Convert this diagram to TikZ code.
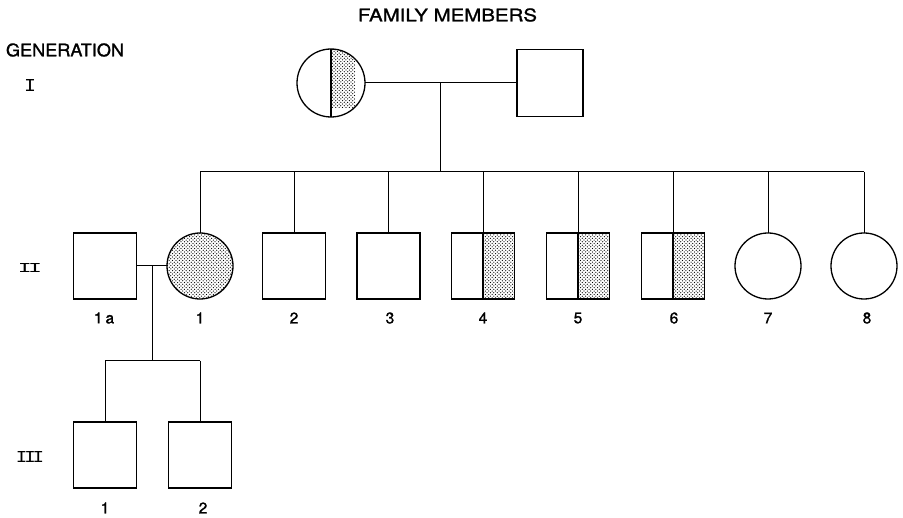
\documentclass[tikz,border=0pt]{standalone}
\usepackage{fontspec}
\usepackage{graphicx}
\usetikzlibrary{patterns}
\newfontfamily\lettering[FakeBold=1.2]{TeX Gyre Heros}
\newfontfamily\romfont{Liberation Mono}

% stipple used for the affected parts of the symbols
\pgfdeclarepatternformonly{stipple}{\pgfqpoint{-1pt}{-1pt}}{\pgfqpoint{4.5pt}{4.5pt}}{\pgfqpoint{3.4pt}{3.4pt}}{%
  \pgfpathcircle{\pgfqpoint{0.85pt}{0.85pt}}{0.62pt}%
  \pgfpathcircle{\pgfqpoint{2.55pt}{2.55pt}}{0.62pt}%
  \pgfusepath{fill}}

\begin{document}
\begin{tikzpicture}[x=1pt,y=-1pt,
  sym/.style={draw, line width=1.3pt, inner sep=0pt, outer sep=0pt},
  male/.style={sym, rectangle, minimum width=63pt, minimum height=66pt},
  female/.style={sym, circle, minimum size=66pt},
  tie/.style={line width=1pt},
  lbl/.style={font=\lettering\fontsize{15.5}{15.5}\selectfont, inner sep=0pt},
  plain/.style={inner sep=0pt, outer sep=0pt}]
\useasboundingbox (0,0) rectangle (903,518);

% headings
\node[plain] (title) at (447.5,15) {\lettering\resizebox{179pt}{13pt}{FAMILY MEMBERS}};
\node[plain] (gen) at (65,50) {\lettering\resizebox{118pt}{13pt}{GENERATION}};

% generation numerals
\node[plain] (r1) at (30,86) {\romfont\resizebox{12pt}{12pt}{I}};
\node[plain] (r2) at (30,268.5) {\romfont\resizebox{24pt}{9pt}{I\kern-0.17emI}};
\node[plain] (r3) at (30,457.5) {\romfont\resizebox{28pt}{11pt}{I\kern-0.17emI\kern-0.17emI}};

% generation I
\node[female, minimum size=68pt] (g1f) at (331,83) {};
\node[male, minimum width=66pt, minimum height=67pt] (g1m) at (550,83) {};
\begin{scope}
  \clip (g1f.north) rectangle (g1f.south east);
  \fill[pattern=stipple] (g1f.center) circle[radius=34pt];
\end{scope}
\draw[sym] (g1f.north) -- (g1f.south);

% generation II
\node[male] (a1) at (105,266) {};
\node[female, pattern=stipple] (b1) at (200,266) {};
\node[male] (b2) at (294,266) {};
\node[male] (b3) at (388.5,266) {};
\node[male] (b4) at (483,266) {};
\node[male] (b5) at (578,266) {};
\node[male] (b6) at (673,266) {};
\node[female] (b7) at (768,266) {};
\node[female] (b8) at (864,266) {};
\foreach \n in {b4,b5,b6}{
  \fill[pattern=stipple] (\n.north) rectangle (\n.south east);
  \draw[sym] (\n.south west) rectangle (\n.north east);
  \draw[sym] (\n.north) -- (\n.south);
}

% generation III
\node[male] (c1) at (105,455) {};
\node[male] (c2) at (200,455) {};

% mating and sibship lines
\coordinate (m1) at (440,83);
\coordinate (s1) at (440,172);
\draw[tie] (g1f.east) -- (g1m.west);
\draw[tie] (m1) -- (s1);
\draw[tie] (b1.north |- s1) -- (b8.north |- s1);
\foreach \n in {b1,b2,b3,b4,b5,b6,b7,b8}
  \draw[tie] (\n.north |- s1) -- (\n.north);

\coordinate (m2) at (152,266);
\coordinate (s2) at (152,361);
\draw[tie] (a1.east) -- (b1.west);
\draw[tie] (m2) -- (s2);
\draw[tie] (c1.north |- s2) -- (c2.north |- s2);
\foreach \n in {c1,c2}
  \draw[tie] (\n.north |- s2) -- (\n.north);

% member numbers
\node[lbl] (la1) at (104,318) {1\kern3pt a};
\node[lbl] (lb1) at (200,318) {1};
\node[lbl] (lb2) at (294,318) {2};
\node[lbl] (lb3) at (390,318) {3};
\node[lbl] (lb4) at (483,318) {4};
\node[lbl] (lb5) at (578,318) {5};
\node[lbl] (lb6) at (674,318) {6};
\node[lbl] (lb7) at (768,318) {7};
\node[lbl] (lb8) at (867,318) {8};
\node[lbl] (lc1) at (105,508) {1};
\node[lbl] (lc2) at (203,508) {2};
\end{tikzpicture}
\end{document}
